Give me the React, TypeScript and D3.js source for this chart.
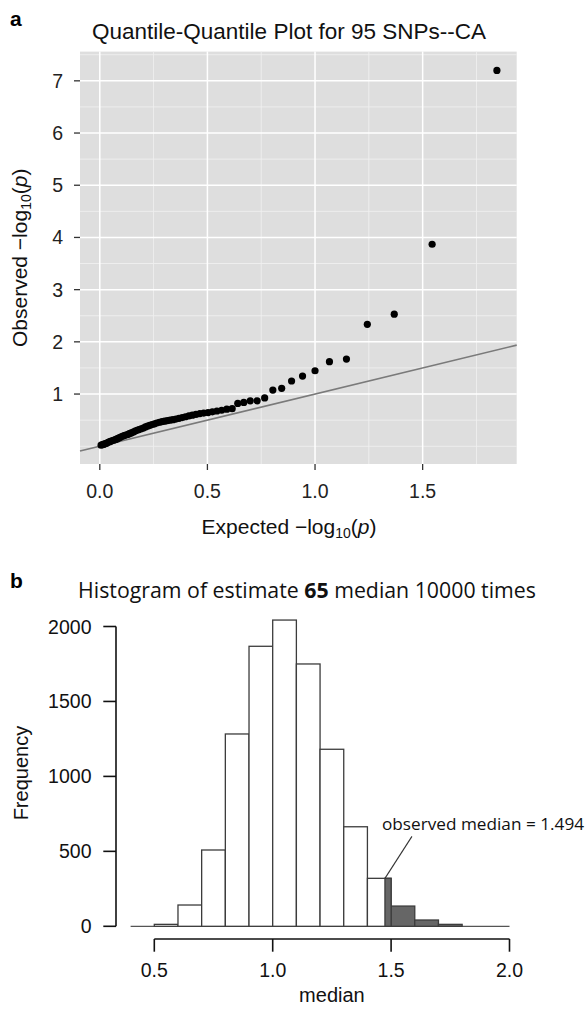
import React from "react"
import * as d3 from "d3"

// panel a: expected vs observed -log10(p), 69 points, largest first
const expectedQ = [
  1.845, 1.544, 1.368, 1.243, 1.146, 1.067, 1.0, 0.942, 0.891, 0.845, 0.804, 0.766, 0.731, 0.699, 0.669,
  0.641, 0.615, 0.59, 0.566, 0.544, 0.523, 0.503, 0.483, 0.465, 0.447, 0.43, 0.414, 0.398, 0.383, 0.368,
  0.354, 0.34, 0.327, 0.314, 0.301, 0.289, 0.277, 0.265, 0.254, 0.243, 0.232, 0.222, 0.212, 0.202, 0.192,
  0.182, 0.173, 0.164, 0.155, 0.146, 0.137, 0.129, 0.121, 0.113, 0.105, 0.097, 0.089, 0.082, 0.074, 0.067,
  0.06, 0.053, 0.046, 0.039, 0.033, 0.026, 0.019, 0.013, 0.006,
]
const observedQ = [
  7.2, 3.87, 2.53, 2.335, 1.67, 1.62, 1.446, 1.345, 1.25, 1.11, 1.077, 0.925, 0.87, 0.87, 0.84, 0.82,
  0.72, 0.71, 0.69, 0.675, 0.66, 0.645, 0.635, 0.625, 0.61, 0.595, 0.58, 0.565, 0.55, 0.535, 0.52, 0.51,
  0.5, 0.49, 0.48, 0.47, 0.46, 0.445, 0.43, 0.415, 0.4, 0.385, 0.37, 0.35, 0.335, 0.32, 0.305, 0.29, 0.27,
  0.255, 0.24, 0.225, 0.215, 0.205, 0.19, 0.175, 0.16, 0.145, 0.13, 0.12, 0.11, 0.1, 0.087, 0.075, 0.06,
  0.05, 0.04, 0.03, 0.02,
]
const qqXTicks = [0, 0.5, 1.0, 1.5]
const qqXMinor = [0.25, 0.75, 1.25, 1.75]
const qqYTicks = [1, 2, 3, 4, 5, 6, 7]
const qqYMinor = [0, 0.5, 1.5, 2.5, 3.5, 4.5, 5.5, 6.5, 7.5]

// panel b: bootstrap medians histogram
const binStarts = [0.5, 0.6, 0.7, 0.8, 0.9, 1.0, 1.1, 1.2, 1.3, 1.4, 1.5, 1.6, 1.7]
const binCounts = [13, 142, 509, 1283, 1868, 2043, 1750, 1181, 664, 320, 135, 42, 13]
const binWidth = 0.1
const shadeFrom = 1.474
const observedMedian = 1.494
const histXTicks = [0.5, 1.0, 1.5, 2.0]
const histYTicks = [0, 500, 1000, 1500, 2000]

const sans = "'Liberation Sans', Arial, sans-serif"
const humanist = "'Open Sans', 'Noto Sans', sans-serif"

export default function App() {
  const xQ = d3.scaleLinear().domain([-0.092, 1.937]).range([80, 516.7])
  const yQ = d3.scaleLinear().domain([-0.34, 7.56]).range([464, 51.6])
  const [qx0, qx1] = xQ.range()
  const [qy0, qy1] = yQ.range()

  const xH = d3.scaleLinear().domain([0.5, 2.0]).range([154.3, 509.5])
  const yH = d3.scaleLinear().domain([0, 2000]).range([926.3, 626.5])
  const hxAxisY = 939
  const hyAxisX = 116

  const fmt = d3.format(".1f")
  const lineDom = xQ.domain()

  const shadeIdx = binStarts.findIndex((b) => b + binWidth > shadeFrom)

  return (
    <svg
      width={585}
      height={1011}
      style={{ position: "absolute", left: 0, top: 0, background: "#fff" }}
    >
      {/* ---------- panel a ---------- */}
      <text x={10} y={26} fontFamily={sans} fontWeight="bold" fontSize={21}>
        a
      </text>
      <text x={289} y={39} fontFamily={sans} fontSize={22.5} textAnchor="middle" fill="#111">
        Quantile-Quantile Plot for 95 SNPs--CA
      </text>

      <rect x={qx0} y={qy1} width={qx1 - qx0} height={qy0 - qy1} fill="#dedede" />
      {qqYMinor.map((v) => (
        <line key={"ym" + v} x1={qx0} x2={qx1} y1={yQ(v)} y2={yQ(v)} stroke="#efefef" strokeWidth={0.9} />
      ))}
      {qqXMinor.map((v) => (
        <line key={"xm" + v} x1={xQ(v)} x2={xQ(v)} y1={qy1} y2={qy0} stroke="#efefef" strokeWidth={0.9} />
      ))}
      {qqYTicks.map((v) => (
        <line key={"yg" + v} x1={qx0} x2={qx1} y1={yQ(v)} y2={yQ(v)} stroke="#fff" strokeWidth={1.5} />
      ))}
      {qqXTicks.map((v) => (
        <line key={"xg" + v} x1={xQ(v)} x2={xQ(v)} y1={qy1} y2={qy0} stroke="#fff" strokeWidth={1.5} />
      ))}

      <line
        x1={xQ(lineDom[0])}
        y1={yQ(lineDom[0])}
        x2={xQ(lineDom[1])}
        y2={yQ(lineDom[1])}
        stroke="#7a7a7a"
        strokeWidth={1.6}
      />
      {expectedQ.map((e, i) => (
        <circle key={i} cx={xQ(e)} cy={yQ(observedQ[i])} r={3.6} fill="#000" />
      ))}

      {qqYTicks.map((v) => (
        <g key={"yt" + v}>
          <line x1={qx0 - 6} x2={qx0} y1={yQ(v)} y2={yQ(v)} stroke="#333" strokeWidth={1.3} />
          <text
            x={qx0 - 17}
            y={yQ(v)}
            dy="0.36em"
            textAnchor="end"
            fontFamily={sans}
            fontSize={19.5}
            fill="#222"
          >
            {v}
          </text>
        </g>
      ))}
      {qqXTicks.map((v) => (
        <g key={"xt" + v}>
          <line x1={xQ(v)} x2={xQ(v)} y1={qy0} y2={qy0 + 6} stroke="#333" strokeWidth={1.3} />
          <text x={xQ(v)} y={qy0 + 34} textAnchor="middle" fontFamily={sans} fontSize={19.5} fill="#222">
            {fmt(v)}
          </text>
        </g>
      ))}

      <text x={289} y={534} textAnchor="middle" fontFamily={sans} fontSize={21} fill="#111">
        Expected  −log
        <tspan fontSize={14} dy={4}>
          10
        </tspan>
        <tspan dy={-4}>(</tspan>
        <tspan fontStyle="italic">p</tspan>)
      </text>
      <text
        transform={`translate(27,${(qy0 + qy1) / 2}) rotate(-90)`}
        textAnchor="middle"
        fontFamily={sans}
        fontSize={21}
        fill="#111"
      >
        Observed  −log
        <tspan fontSize={14} dy={4}>
          10
        </tspan>
        <tspan dy={-4}>(</tspan>
        <tspan fontStyle="italic">p</tspan>)
      </text>

      {/* ---------- panel b ---------- */}
      <text x={10} y={588} fontFamily={sans} fontWeight="bold" fontSize={21}>
        b
      </text>
      <text x={307} y={598} textAnchor="middle" fontFamily={humanist} fontSize={21.3} fill="#111">
        Histogram of estimate <tspan fontWeight="bold">65</tspan> median 10000 times
      </text>

      <line x1={xH(0.4)} x2={xH(2.0)} y1={yH(0)} y2={yH(0)} stroke="#555" strokeWidth={1.3} />
      {binStarts.map((b, i) => {
        const x0 = xH(b)
        const x1 = xH(b + binWidth)
        const y = yH(binCounts[i])
        const dark = b >= 1.5
        return (
          <rect
            key={"bin" + b}
            x={x0}
            y={y}
            width={x1 - x0}
            height={yH(0) - y}
            fill={dark ? "#666" : "#fff"}
            stroke="#3c3c3c"
            strokeWidth={1.3}
          />
        )
      })}
      {shadeIdx >= 0 && (
        <rect
          x={xH(shadeFrom)}
          y={yH(binCounts[shadeIdx])}
          width={xH(binStarts[shadeIdx] + binWidth) - xH(shadeFrom)}
          height={yH(0) - yH(binCounts[shadeIdx])}
          fill="#666"
          stroke="#3c3c3c"
          strokeWidth={1.3}
        />
      )}

      <line
        x1={xH(shadeFrom)}
        y1={yH(binCounts[shadeIdx])}
        x2={xH(shadeFrom) + 27}
        y2={yH(binCounts[shadeIdx]) - 42}
        stroke="#333"
        strokeWidth={1.1}
      />
      <text x={382} y={830} fontFamily={humanist} fontSize={17.2} fill="#111">
        observed median = {observedMedian}
      </text>

      {/* y axis */}
      <line x1={hyAxisX} x2={hyAxisX} y1={yH(0)} y2={yH(2000)} stroke="#111" strokeWidth={1.6} />
      {histYTicks.map((v) => (
        <g key={"hy" + v}>
          <line x1={hyAxisX - 12.7} x2={hyAxisX} y1={yH(v)} y2={yH(v)} stroke="#111" strokeWidth={1.6} />
          <text
            x={hyAxisX - 24.5}
            y={yH(v)}
            dy="0.36em"
            textAnchor="end"
            fontFamily={sans}
            fontSize={19.5}
            fill="#111"
          >
            {v}
          </text>
        </g>
      ))}
      {/* x axis */}
      <line x1={xH(0.5)} x2={xH(2.0)} y1={hxAxisY} y2={hxAxisY} stroke="#111" strokeWidth={1.6} />
      {histXTicks.map((v) => (
        <g key={"hx" + v}>
          <line x1={xH(v)} x2={xH(v)} y1={hxAxisY} y2={hxAxisY + 12.7} stroke="#111" strokeWidth={1.6} />
          <text x={xH(v)} y={977} textAnchor="middle" fontFamily={sans} fontSize={19.5} fill="#111">
            {fmt(v)}
          </text>
        </g>
      ))}
      <text x={xH(1.25)} y={1002} textAnchor="middle" fontFamily={sans} fontSize={20} fill="#111">
        median
      </text>
      <text
        transform={`translate(28,${yH(1022)}) rotate(-90)`}
        textAnchor="middle"
        fontFamily={sans}
        fontSize={20}
        fill="#111"
      >
        Frequency
      </text>
    </svg>
  )
}
